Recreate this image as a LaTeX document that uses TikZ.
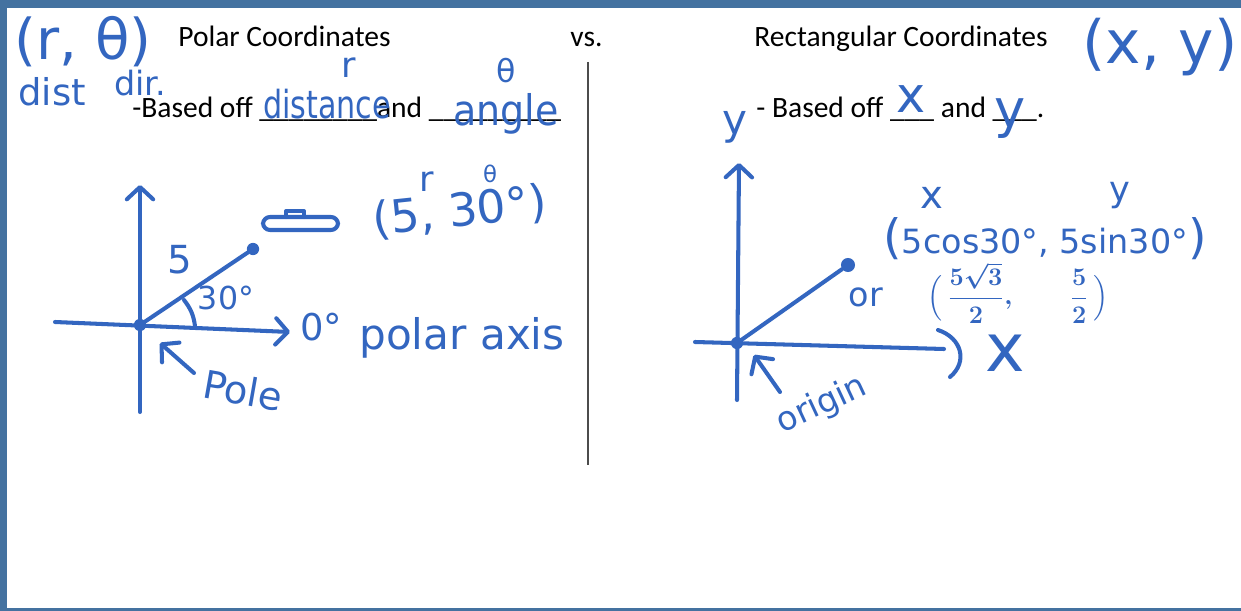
\documentclass[tikz,border=0pt]{standalone}
\usepackage{amsmath}
\usepackage{fontspec}
\setmainfont{Carlito}
\newfontfamily\handfont{DejaVu Sans}
\usetikzlibrary{arrows.meta}
\definecolor{ink}{RGB}{51,102,192}
\definecolor{framebar}{RGB}{68,114,160}
\tikzset{
  pen/.style={draw=ink,line width=2.3pt,line cap=round,line join=round},
  hand/.style={text=ink,inner sep=0pt,font=\handfont\fontsize{#1}{#1}\selectfont},
  print/.style={inner sep=0pt,anchor=base west,font=\fontsize{16.8}{20}\selectfont},
  dot/.style={circle,fill=ink,inner sep=0pt,minimum size=7pt},
  barb/.style={-{Straight Barb[length=7pt,width=15pt,round]}},
}
\begin{document}
\begin{tikzpicture}[x=0.02cm,y=-0.02cm]
  \fill[white] (0,0) rectangle (1241,611);
  \fill[framebar] (0,0) rectangle (1241,8);
  \fill[framebar] (0,0) rectangle (7,611);
  \fill[framebar] (0,608) rectangle (1241,611);
  \useasboundingbox (0,0) rectangle (1241,611);
  % printed text
  \node[print] (polar) at (178,47) {Polar Coordinates};
  \node[print] (vs) at (570,47) {vs.};
  \node[print] (rect) at (754,47) {Rectangular Coordinates};
  \node[print] (basedl) at (132,118) {-Based off \_\_\_\_\_\_\_\_and \_\_\_\_\_\_\_\_\_};
  \node[print] (basedr) at (756,118) {- Based off \_\_\_ and \_\_\_.};
  \coordinate (divtop) at (588,62); \coordinate (divbot) at (588,465);
  \draw[black!70,line width=0.6pt] (divtop) -- (divbot);
  % notes on the header
  \node[hand=32] (rtheta) at (83,42) {(r, θ)};
  \node[hand=21] (dist) at (52,92) {dist};
  \node[hand=19] (dir) at (140,83) {dir.};
  \node[hand=20] (rsup) at (349,68) {r};
  \node[hand=22] (distance) at (327,104) {\scalebox{0.78}[1]{distance}};
  \node[hand=18] (thsup) at (506,71) {θ};
  \node[hand=24] (angle) at (506,114) {\scalebox{0.9}[1]{angle}};
  \node[hand=34] (xy) at (1160,47) {(x, y)};
  \node[hand=24] (yleft) at (735,127) {y};
  \node[hand=28] (xblank) at (911,99) {x};
  \node[hand=30] (yblank) at (1010,119) {y};
  % polar plane
  \coordinate (vtop) at (140,185); \coordinate (vbot) at (140,412);
  \coordinate (hleft) at (55,322); \coordinate (hright) at (290,332);
  \node[dot] (pole) at (140,325) {};
  \node[dot] (tip) at (253,249) {};
  \draw[pen,barb] (vbot) -- (vtop);
  \draw[pen,barb] (hleft) -- (hright);
  \draw[pen] (pole) -- (tip);
  \coordinate (arcA) at (184,300); \coordinate (arcB) at (195,326);
  \draw[pen] (arcA) to[bend left=15] (arcB);
  \node[hand=22] (five) at (180,260) {5};
  \node[hand=18] (thirty) at (226,298) {30°};
  \node[hand=21] (zero) at (321,327) {0°};
  \node[hand=24] (paxis) at (462,338) {polar axis};
  \coordinate (poletail) at (194,373); \coordinate (polehead) at (160,343);
  \draw[pen,barb] (poletail) -- (polehead);
  \node[hand=22,rotate=-10] (polelbl) at (243,390) {Pole};
  \draw[pen,rounded corners=4pt] (263,217) rectangle (338,230);
  \draw[pen] (286,217) -- (286,211) -- (304,211) -- (304,217);
  \node[hand=26,rotate=6] (pt5) at (460,212) {(5, 30°)};
  \node[hand=20] (ptr) at (427,182) {r};
  \node[hand=13] (ptth) at (490,174) {θ};
  % rectangular plane
  \coordinate (ytop) at (739,163); \coordinate (ybot) at (737,400);
  \coordinate (xleft) at (695,342); \coordinate (xright) at (944,349);
  \node[dot] (origin) at (737,343) {};
  \node[dot,minimum size=8pt] (ptxy) at (848,265) {};
  \draw[pen,barb] (ybot) -- (ytop);
  \draw[pen] (xleft) -- (xright);
  \coordinate (curlA) at (938,330); \coordinate (curlB) at (950,377);
  \draw[pen] (curlA) .. controls (962,338) and (968,362) .. (curlB);
  \draw[pen] (origin) -- (ptxy);
  \node[hand=38] (xaxis) at (1005,353) {x};
  \coordinate (orgtail) at (780,392); \coordinate (orghead) at (754,355);
  \draw[pen,barb] (orgtail) -- (orghead);
  \node[hand=19,rotate=25] (orglbl) at (822,405) {origin};
  \node[hand=22] (xsup) at (932,198) {x};
  \node[hand=20] (ysup) at (1120,196) {y};
  \node[hand=19] (trig) at (1045,239) {{\fontsize{27}{27}\selectfont(}5cos30°, 5sin30°{\fontsize{27}{27}\selectfont)}};
  \node[hand=19] (orword) at (866,297) {or};
  \node[text=ink,inner sep=0pt,font=\fontsize{15}{15}\selectfont\boldmath] (fracs) at (1018,293)
    {$\Bigl(\,\dfrac{5\sqrt{3}}{2},\hspace{2em}\dfrac{5}{2}\,\Bigr)$};
\end{tikzpicture}
\end{document}
